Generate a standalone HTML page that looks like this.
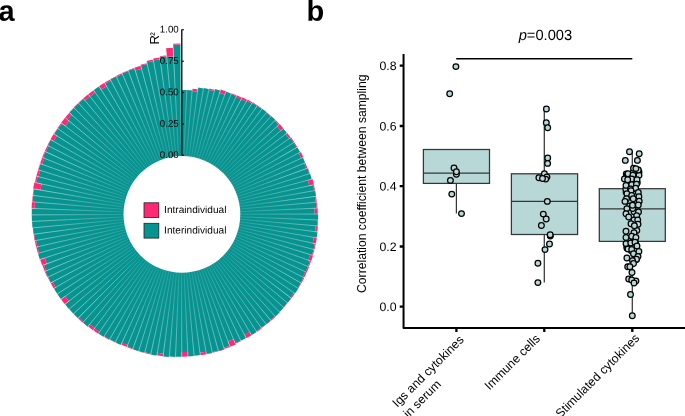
<!DOCTYPE html>
<html><head><meta charset="utf-8"><title>Figure</title>
<style>
html,body{margin:0;padding:0;background:#fff;}
body{width:685px;height:416px;overflow:hidden;position:relative;}
svg{position:absolute;left:0;top:0;display:block;}
text{font-family:"Liberation Sans",Arial,sans-serif;fill:#000;}
</style></head>
<body>
<svg width="685" height="416" viewBox="0 0 685 416">
<rect width="685" height="416" fill="#fff"/>
<g id="polar">
<path d="M181.35 157.15L181.35 89.91A124.3 124.3 0 0 1 186.77 90.03L183.84 157.20A57.1 57.1 0 0 0 181.35 157.15ZM183.84 157.20L186.77 89.90A124.5 124.5 0 0 1 192.19 90.26L186.32 157.37A57.1 57.1 0 0 0 183.84 157.20ZM186.32 157.37L192.13 90.88A123.8 123.8 0 0 1 197.50 91.47L188.80 157.64A57.1 57.1 0 0 0 186.32 157.37ZM188.80 157.64L198.01 87.61A127.7 127.7 0 0 1 203.51 88.45L191.26 158.02A57.1 57.1 0 0 0 188.80 157.64ZM191.26 158.02L203.58 88.08A128.1 128.1 0 0 1 209.05 89.17L193.70 158.50A57.1 57.1 0 0 0 191.26 158.02ZM193.70 158.50L208.95 89.66A127.6 127.6 0 0 1 214.35 90.98L196.12 159.09A57.1 57.1 0 0 0 193.70 158.50ZM196.12 159.09L214.87 89.04A129.6 129.6 0 0 1 220.29 90.62L198.51 159.79A57.1 57.1 0 0 0 196.12 159.09ZM198.51 159.79L219.54 93.02A127.1 127.1 0 0 1 224.79 94.80L200.86 160.59A57.1 57.1 0 0 0 198.51 159.79ZM200.86 160.59L225.95 91.61A130.5 130.5 0 0 1 231.25 93.67L203.18 161.49A57.1 57.1 0 0 0 200.86 160.59ZM203.18 161.49L231.10 94.01A130.1 130.1 0 0 1 236.30 96.30L205.46 162.49A57.1 57.1 0 0 0 203.18 161.49ZM205.46 162.49L235.92 97.09A129.2 129.2 0 0 1 240.98 99.58L207.69 163.59A57.1 57.1 0 0 0 205.46 162.49ZM207.69 163.59L241.21 99.14A129.7 129.7 0 0 1 246.17 101.86L209.88 164.79A57.1 57.1 0 0 0 207.69 163.59ZM209.88 164.79L246.92 100.55A131.3 131.3 0 0 1 251.82 103.51L212.01 166.08A57.1 57.1 0 0 0 209.88 164.79ZM212.01 166.08L252.36 102.67A132.3 132.3 0 0 1 257.15 105.87L214.08 167.46A57.1 57.1 0 0 0 212.01 166.08ZM214.08 167.46L257.30 105.66A132.5 132.5 0 0 1 261.96 109.07L216.08 168.93A57.1 57.1 0 0 0 214.08 167.46ZM216.08 168.93L262.26 108.67A133.0 133.0 0 0 1 266.79 112.30L218.03 170.49A57.1 57.1 0 0 0 216.08 168.93ZM218.03 170.49L266.54 112.59A132.6 132.6 0 0 1 270.89 116.40L219.90 172.13A57.1 57.1 0 0 0 218.03 170.49ZM219.90 172.13L271.23 116.03A133.1 133.1 0 0 1 275.43 120.04L221.70 173.85A57.1 57.1 0 0 0 219.90 172.13ZM221.70 173.85L274.81 120.66A132.3 132.3 0 0 1 278.80 124.82L223.42 175.64A57.1 57.1 0 0 0 221.70 173.85ZM223.42 175.64L277.04 126.44A129.9 129.9 0 0 1 280.77 130.69L225.06 177.51A57.1 57.1 0 0 0 223.42 175.64ZM225.06 177.51L283.27 128.59A133.1 133.1 0 0 1 286.91 133.11L226.62 179.45A57.1 57.1 0 0 0 225.06 177.51ZM226.62 179.45L285.71 134.03A131.6 131.6 0 0 1 289.11 138.66L228.10 181.46A57.1 57.1 0 0 0 226.62 179.45ZM228.10 181.46L290.35 137.79A133.1 133.1 0 0 1 293.57 142.61L229.48 183.53A57.1 57.1 0 0 0 228.10 181.46ZM229.48 183.53L293.57 142.61A133.1 133.1 0 0 1 296.59 147.57L230.77 185.65A57.1 57.1 0 0 0 229.48 183.53ZM230.77 185.65L297.35 147.13A134.0 134.0 0 0 1 300.17 152.25L231.97 187.83A57.1 57.1 0 0 0 230.77 185.65ZM231.97 187.83L298.61 153.06A132.3 132.3 0 0 1 301.16 158.23L233.08 190.07A57.1 57.1 0 0 0 231.97 187.83ZM233.08 190.07L302.87 157.43A134.1 134.1 0 0 1 305.23 162.78L234.08 192.34A57.1 57.1 0 0 0 233.08 190.07ZM234.08 192.34L304.19 163.22A133.0 133.0 0 0 1 306.29 168.62L234.98 194.66A57.1 57.1 0 0 0 234.08 192.34ZM234.98 194.66L307.47 168.19A134.3 134.3 0 0 1 309.36 173.73L235.79 197.02A57.1 57.1 0 0 0 234.98 194.66ZM235.79 197.02L310.08 173.50A135.0 135.0 0 0 1 311.73 179.15L236.49 199.41A57.1 57.1 0 0 0 235.79 197.02ZM236.49 199.41L307.97 180.16A131.1 131.1 0 0 1 309.34 185.71L237.08 201.82A57.1 57.1 0 0 0 236.49 199.41ZM237.08 201.82L313.02 184.89A134.9 134.9 0 0 1 314.17 190.66L237.57 204.26A57.1 57.1 0 0 0 237.08 201.82ZM237.57 204.26L315.16 190.48A135.9 135.9 0 0 1 316.07 196.34L237.95 206.72A57.1 57.1 0 0 0 237.57 204.26ZM237.95 206.72L315.20 196.45A135.0 135.0 0 0 1 315.85 202.30L238.23 209.20A57.1 57.1 0 0 0 237.95 206.72ZM238.23 209.20L316.22 202.27A135.4 135.4 0 0 1 316.62 208.16L238.39 211.68A57.1 57.1 0 0 0 238.23 209.20ZM238.39 211.68L314.61 208.25A133.4 133.4 0 0 1 314.74 214.06L238.45 214.17A57.1 57.1 0 0 0 238.39 211.68ZM238.45 214.17L318.14 214.06A136.8 136.8 0 0 1 318.01 220.02L238.40 216.66A57.1 57.1 0 0 0 238.45 214.17ZM238.40 216.66L317.64 220.00A136.4 136.4 0 0 1 317.26 225.94L238.24 219.14A57.1 57.1 0 0 0 238.40 216.66ZM238.24 219.14L315.75 225.81A134.9 134.9 0 0 1 315.12 231.65L237.97 221.62A57.1 57.1 0 0 0 238.24 219.14ZM237.97 221.62L317.49 231.96A137.3 137.3 0 0 1 316.59 237.88L237.60 224.08A57.1 57.1 0 0 0 237.97 221.62ZM237.60 224.08L313.87 237.40A134.5 134.5 0 0 1 312.73 243.15L237.12 226.52A57.1 57.1 0 0 0 237.60 224.08ZM237.12 226.52L314.94 243.64A136.8 136.8 0 0 1 313.53 249.43L236.53 228.94A57.1 57.1 0 0 0 237.12 226.52ZM236.53 228.94L313.65 249.47A136.9 136.9 0 0 1 311.99 255.20L235.84 231.33A57.1 57.1 0 0 0 236.53 228.94ZM235.84 231.33L310.19 254.63A135.0 135.0 0 0 1 308.31 260.21L235.04 233.69A57.1 57.1 0 0 0 235.84 231.33ZM235.04 233.69L310.09 260.85A136.9 136.9 0 0 1 307.93 266.42L234.14 236.01A57.1 57.1 0 0 0 235.04 233.69ZM234.14 236.01L307.93 266.42A136.9 136.9 0 0 1 305.54 271.89L233.14 238.29A57.1 57.1 0 0 0 234.14 236.01ZM233.14 238.29L305.31 271.78A136.7 136.7 0 0 1 302.69 277.13L232.05 240.52A57.1 57.1 0 0 0 233.14 238.29ZM232.05 240.52L303.58 277.59A137.7 137.7 0 0 1 300.70 282.86L230.85 242.71A57.1 57.1 0 0 0 232.05 240.52ZM230.85 242.71L300.92 282.98A137.9 137.9 0 0 1 297.81 288.13L229.57 244.84A57.1 57.1 0 0 0 230.85 242.71ZM229.57 244.84L298.34 288.46A138.5 138.5 0 0 1 295.00 293.49L228.19 246.91A57.1 57.1 0 0 0 229.57 244.84ZM228.19 246.91L293.96 292.77A137.3 137.3 0 0 1 290.44 297.61L226.72 248.92A57.1 57.1 0 0 0 228.19 246.91ZM226.72 248.92L291.13 298.14A138.2 138.2 0 0 1 287.37 302.85L225.17 250.86A57.1 57.1 0 0 0 226.72 248.92ZM225.17 250.86L287.37 302.85A138.2 138.2 0 0 1 283.41 307.38L223.53 252.74A57.1 57.1 0 0 0 225.17 250.86ZM223.53 252.74L283.69 307.64A138.5 138.5 0 0 1 279.52 312.01L221.81 254.54A57.1 57.1 0 0 0 223.53 252.74ZM221.81 254.54L279.88 312.36A139.0 139.0 0 0 1 275.51 316.56L220.02 256.26A57.1 57.1 0 0 0 221.81 254.54ZM220.02 256.26L275.09 316.10A138.4 138.4 0 0 1 270.56 320.09L218.15 257.91A57.1 57.1 0 0 0 220.02 256.26ZM218.15 257.91L270.80 320.38A138.8 138.8 0 0 1 266.09 324.17L216.21 259.47A57.1 57.1 0 0 0 218.15 257.91ZM216.21 259.47L266.17 324.27A138.9 138.9 0 0 1 261.29 327.87L214.21 260.95A57.1 57.1 0 0 0 216.21 259.47ZM214.21 260.95L261.22 327.76A138.8 138.8 0 0 1 256.20 331.14L212.14 262.34A57.1 57.1 0 0 0 214.21 260.95ZM212.14 262.34L256.74 331.98A139.8 139.8 0 0 1 251.54 335.16L210.02 263.63A57.1 57.1 0 0 0 212.14 262.34ZM210.02 263.63L249.64 331.90A136.0 136.0 0 0 1 244.45 334.76L207.84 264.83A57.1 57.1 0 0 0 210.02 263.63ZM207.84 264.83L246.20 338.10A139.8 139.8 0 0 1 240.74 340.81L205.61 265.94A57.1 57.1 0 0 0 207.84 264.83ZM205.61 265.94L240.69 340.70A139.7 139.7 0 0 1 235.12 343.16L203.33 266.95A57.1 57.1 0 0 0 205.61 265.94ZM203.33 266.95L233.52 339.33A135.5 135.5 0 0 1 228.02 341.49L201.01 267.86A57.1 57.1 0 0 0 203.33 266.95ZM201.01 267.86L229.58 345.74A140.1 140.1 0 0 1 223.81 347.71L198.66 268.66A57.1 57.1 0 0 0 201.01 267.86ZM198.66 268.66L224.26 349.15A141.6 141.6 0 0 1 218.34 350.89L196.27 269.37A57.1 57.1 0 0 0 198.66 268.66ZM196.27 269.37L218.31 350.77A141.4 141.4 0 0 1 212.33 352.25L193.86 269.96A57.1 57.1 0 0 0 196.27 269.37ZM193.86 269.96L212.44 352.74A141.9 141.9 0 0 1 206.37 353.97L191.42 270.46A57.1 57.1 0 0 0 193.86 269.96ZM191.42 270.46L205.97 351.74A139.7 139.7 0 0 1 199.96 352.68L188.96 270.84A57.1 57.1 0 0 0 191.42 270.46ZM188.96 270.84L200.28 355.05A142.1 142.1 0 0 1 194.12 355.74L186.48 271.12A57.1 57.1 0 0 0 188.96 270.84ZM186.48 271.12L194.14 355.99A142.3 142.3 0 0 1 187.96 356.41L184.00 271.29A57.1 57.1 0 0 0 186.48 271.12ZM184.00 271.29L187.74 351.77A137.7 137.7 0 0 1 181.74 351.91L181.51 271.35A57.1 57.1 0 0 0 184.00 271.29ZM181.51 271.35L181.75 356.82A142.6 142.6 0 0 1 175.54 356.70L179.02 271.30A57.1 57.1 0 0 0 181.51 271.35ZM179.02 271.30L175.53 356.95A142.8 142.8 0 0 1 169.32 356.56L176.54 271.15A57.1 57.1 0 0 0 179.02 271.30ZM176.54 271.15L169.27 357.06A143.3 143.3 0 0 1 163.06 356.40L174.06 270.88A57.1 57.1 0 0 0 176.54 271.15ZM174.06 270.88L163.40 353.78A140.7 140.7 0 0 1 157.34 352.87L171.60 270.51A57.1 57.1 0 0 0 174.06 270.88ZM171.60 270.51L156.86 355.59A143.4 143.4 0 0 1 150.73 354.39L169.16 270.03A57.1 57.1 0 0 0 171.60 270.51ZM169.16 270.03L150.86 353.78A142.8 142.8 0 0 1 144.81 352.32L166.74 269.45A57.1 57.1 0 0 0 169.16 270.03ZM166.74 269.45L144.71 352.68A143.2 143.2 0 0 1 138.71 350.95L164.35 268.76A57.1 57.1 0 0 0 166.74 269.45ZM164.35 268.76L138.64 351.19A143.4 143.4 0 0 1 132.71 349.20L161.99 267.97A57.1 57.1 0 0 0 164.35 268.76ZM161.99 267.97L132.93 348.61A142.8 142.8 0 0 1 127.12 346.37L159.67 267.07A57.1 57.1 0 0 0 161.99 267.97ZM159.67 267.07L127.64 345.09A141.4 141.4 0 0 1 121.99 342.63L157.39 266.08A57.1 57.1 0 0 0 159.67 267.07ZM157.39 266.08L120.88 345.02A144.1 144.1 0 0 1 115.24 342.26L155.15 264.98A57.1 57.1 0 0 0 157.39 266.08ZM155.15 264.98L115.24 342.26A144.1 144.1 0 0 1 109.72 339.26L152.96 263.79A57.1 57.1 0 0 0 155.15 264.98ZM152.96 263.79L109.54 339.59A144.5 144.5 0 0 1 104.14 336.34L150.83 262.51A57.1 57.1 0 0 0 152.96 263.79ZM150.83 262.51L103.67 337.08A145.3 145.3 0 0 1 98.39 333.58L148.76 261.13A57.1 57.1 0 0 0 150.83 262.51ZM148.76 261.13L99.40 332.14A143.6 143.6 0 0 1 94.34 328.45L146.75 259.67A57.1 57.1 0 0 0 148.76 261.13ZM146.75 259.67L94.57 328.15A143.2 143.2 0 0 1 89.69 324.26L144.80 258.12A57.1 57.1 0 0 0 146.75 259.67ZM144.80 258.12L87.67 326.68A146.3 146.3 0 0 1 82.86 322.49L142.92 256.48A57.1 57.1 0 0 0 144.80 258.12ZM142.92 256.48L83.54 321.74A145.3 145.3 0 0 1 78.95 317.38L141.12 254.77A57.1 57.1 0 0 0 142.92 256.48ZM141.12 254.77L77.97 318.36A146.7 146.7 0 0 1 73.54 313.76L139.39 252.98A57.1 57.1 0 0 0 141.12 254.77ZM139.39 252.98L73.44 313.84A146.8 146.8 0 0 1 69.21 309.04L137.74 251.11A57.1 57.1 0 0 0 139.39 252.98ZM137.74 251.11L69.11 309.13A147.0 147.0 0 0 1 65.08 304.14L136.18 249.18A57.1 57.1 0 0 0 137.74 251.11ZM136.18 249.18L68.86 301.22A142.2 142.2 0 0 1 65.18 296.24L134.70 247.17A57.1 57.1 0 0 0 136.18 249.18ZM134.70 247.17L60.97 299.21A147.3 147.3 0 0 1 57.38 293.88L133.31 245.11A57.1 57.1 0 0 0 134.70 247.17ZM133.31 245.11L57.27 293.95A147.5 147.5 0 0 1 53.92 288.47L132.01 242.99A57.1 57.1 0 0 0 133.31 245.11ZM132.01 242.99L55.65 287.45A145.5 145.5 0 0 1 52.58 281.91L130.80 240.81A57.1 57.1 0 0 0 132.01 242.99ZM130.80 240.81L50.91 282.78A147.3 147.3 0 0 1 48.05 277.03L129.69 238.58A57.1 57.1 0 0 0 130.80 240.81ZM129.69 238.58L48.05 277.03A147.3 147.3 0 0 1 45.44 271.17L128.68 236.31A57.1 57.1 0 0 0 129.69 238.58ZM128.68 236.31L46.25 270.83A146.5 146.5 0 0 1 43.92 264.89L127.77 233.99A57.1 57.1 0 0 0 128.68 236.31ZM127.77 233.99L46.75 263.84A143.4 143.4 0 0 1 44.71 257.93L126.96 231.64A57.1 57.1 0 0 0 127.77 233.99ZM126.96 231.64L39.81 259.50A148.6 148.6 0 0 1 37.97 253.29L126.26 229.25A57.1 57.1 0 0 0 126.96 231.64ZM126.26 229.25L39.06 252.99A147.5 147.5 0 0 1 37.51 246.75L125.65 226.83A57.1 57.1 0 0 0 126.26 229.25ZM125.65 226.83L37.38 246.78A147.6 147.6 0 0 1 36.10 240.47L125.16 224.40A57.1 57.1 0 0 0 125.65 226.83ZM125.16 224.40L35.11 240.65A148.6 148.6 0 0 1 34.10 234.25L124.77 221.94A57.1 57.1 0 0 0 125.16 224.40ZM124.77 221.94L33.60 234.32A149.1 149.1 0 0 1 32.87 227.86L124.49 219.46A57.1 57.1 0 0 0 124.77 221.94ZM124.49 219.46L32.49 227.90A149.5 149.5 0 0 1 32.04 221.40L124.32 216.98A57.1 57.1 0 0 0 124.49 219.46ZM124.32 216.98L31.91 221.41A149.6 149.6 0 0 1 31.74 214.89L124.25 214.49A57.1 57.1 0 0 0 124.32 216.98ZM124.25 214.49L31.74 214.89A149.6 149.6 0 0 1 31.86 208.37L124.29 212.00A57.1 57.1 0 0 0 124.25 214.49ZM124.29 212.00L34.62 208.47A146.8 146.8 0 0 1 35.01 202.09L124.45 209.52A57.1 57.1 0 0 0 124.29 212.00ZM124.45 209.52L32.51 201.88A149.4 149.4 0 0 1 33.19 195.40L124.71 207.04A57.1 57.1 0 0 0 124.45 209.52ZM124.71 207.04L33.06 195.39A149.5 149.5 0 0 1 34.03 188.94L125.07 204.58A57.1 57.1 0 0 0 124.71 207.04ZM125.07 204.58L40.47 190.05A142.9 142.9 0 0 1 41.66 183.93L125.55 202.14A57.1 57.1 0 0 0 125.07 204.58ZM125.55 202.14L36.13 182.73A148.6 148.6 0 0 1 37.64 176.43L126.13 199.72A57.1 57.1 0 0 0 125.55 202.14ZM126.13 199.72L38.49 176.66A147.7 147.7 0 0 1 40.27 170.47L126.82 197.33A57.1 57.1 0 0 0 126.13 199.72ZM126.82 197.33L38.47 169.91A149.6 149.6 0 0 1 40.53 163.72L127.60 194.97A57.1 57.1 0 0 0 126.82 197.33ZM127.60 194.97L42.07 164.28A148.0 148.0 0 0 1 44.38 158.25L128.50 192.64A57.1 57.1 0 0 0 127.60 194.97ZM128.50 192.64L42.87 157.64A149.6 149.6 0 0 1 45.47 151.65L129.49 190.36A57.1 57.1 0 0 0 128.50 192.64ZM129.49 190.36L45.81 151.81A149.2 149.2 0 0 1 48.66 145.96L130.58 188.12A57.1 57.1 0 0 0 129.49 190.36ZM130.58 188.12L47.77 145.50A150.2 150.2 0 0 1 50.89 139.75L131.77 185.93A57.1 57.1 0 0 0 130.58 188.12ZM131.77 185.93L53.51 141.24A147.2 147.2 0 0 1 56.81 135.74L133.05 183.80A57.1 57.1 0 0 0 131.77 185.93ZM133.05 183.80L54.15 134.07A150.4 150.4 0 0 1 57.77 128.60L134.42 181.72A57.1 57.1 0 0 0 133.05 183.80ZM134.42 181.72L58.08 128.81A150.0 150.0 0 0 1 61.92 123.52L135.88 179.71A57.1 57.1 0 0 0 134.42 181.72ZM135.88 179.71L65.12 125.96A146.0 146.0 0 0 1 69.08 120.97L137.43 177.76A57.1 57.1 0 0 0 135.88 179.71ZM137.43 177.76L67.44 119.61A148.1 148.1 0 0 1 71.67 114.73L139.06 175.88A57.1 57.1 0 0 0 137.43 177.76ZM139.06 175.88L69.44 112.71A151.1 151.1 0 0 1 73.97 107.93L140.77 174.07A57.1 57.1 0 0 0 139.06 175.88ZM140.77 174.07L74.23 108.19A150.7 150.7 0 0 1 78.96 103.62L142.56 172.34A57.1 57.1 0 0 0 140.77 174.07ZM142.56 172.34L78.53 103.16A151.4 151.4 0 0 1 83.47 98.79L144.43 170.69A57.1 57.1 0 0 0 142.56 172.34ZM144.43 170.69L84.85 100.42A149.2 149.2 0 0 1 89.90 96.32L146.36 169.13A57.1 57.1 0 0 0 144.43 170.69ZM146.36 169.13L89.90 96.32A149.2 149.2 0 0 1 95.13 92.45L148.36 167.64A57.1 57.1 0 0 0 146.36 169.13ZM148.36 167.64L93.53 90.19A152.0 152.0 0 0 1 99.02 86.48L150.42 166.25A57.1 57.1 0 0 0 148.36 167.64ZM150.42 166.25L101.00 89.55A148.3 148.3 0 0 1 106.51 86.16L152.54 164.95A57.1 57.1 0 0 0 150.42 166.25ZM152.54 164.95L105.11 83.77A151.1 151.1 0 0 1 110.87 80.58L154.72 163.74A57.1 57.1 0 0 0 152.54 164.95ZM154.72 163.74L110.34 79.58A152.2 152.2 0 0 1 116.28 76.61L156.95 162.63A57.1 57.1 0 0 0 154.72 163.74ZM156.95 162.63L116.44 76.95A151.9 151.9 0 0 1 122.49 74.25L159.22 161.61A57.1 57.1 0 0 0 156.95 162.63ZM159.22 161.61L122.10 73.32A152.9 152.9 0 0 1 128.30 70.88L161.53 160.70A57.1 57.1 0 0 0 159.22 161.61ZM161.53 160.70L128.21 70.64A153.1 153.1 0 0 1 134.52 68.46L163.89 159.89A57.1 57.1 0 0 0 161.53 160.70ZM163.89 159.89L135.21 70.62A150.9 150.9 0 0 1 141.51 68.74L166.27 159.18A57.1 57.1 0 0 0 163.89 159.89ZM166.27 159.18L140.65 65.59A154.1 154.1 0 0 1 147.17 63.96L168.69 158.57A57.1 57.1 0 0 0 166.27 159.18ZM168.69 158.57L146.80 62.36A155.8 155.8 0 0 1 153.46 61.00L171.13 158.07A57.1 57.1 0 0 0 168.69 158.57ZM171.13 158.07L153.34 60.38A156.4 156.4 0 0 1 160.08 59.31L173.58 157.68A57.1 57.1 0 0 0 171.13 158.07ZM173.58 157.68L159.75 56.94A158.8 158.8 0 0 1 166.63 56.15L176.06 157.40A57.1 57.1 0 0 0 173.58 157.68ZM176.06 157.40L166.70 56.90A158.0 158.0 0 0 1 173.57 56.41L178.54 157.22A57.1 57.1 0 0 0 176.06 157.40ZM178.54 157.22L172.99 44.74A169.7 169.7 0 0 1 180.39 44.53L181.03 157.15A57.1 57.1 0 0 0 178.54 157.22Z" fill="#07938f"/>
<path d="M192.13 90.93L192.32 88.75A126.0 126.0 0 0 1 197.78 89.35L197.49 91.52A123.8 123.8 0 0 0 192.13 90.93ZM208.93 89.71L209.22 88.43A128.9 128.9 0 0 1 214.67 89.77L214.34 91.03A127.6 127.6 0 0 0 208.93 89.71ZM219.52 93.06L220.67 89.42A130.9 130.9 0 0 1 226.07 91.25L224.77 94.84A127.1 127.1 0 0 0 219.52 93.06ZM231.08 94.06L231.39 93.32A130.9 130.9 0 0 1 236.61 95.61L236.27 96.34A130.1 130.1 0 0 0 231.08 94.06ZM235.90 97.14L236.83 95.16A131.4 131.4 0 0 1 241.96 97.69L240.96 99.63A129.2 129.2 0 0 0 235.90 97.14ZM241.19 99.18L242.20 97.24A131.9 131.9 0 0 1 247.24 100.00L246.15 101.90A129.7 129.7 0 0 0 241.19 99.18ZM246.90 100.59L247.55 99.46A132.5 132.5 0 0 1 252.49 102.45L251.79 103.56A131.2 131.2 0 0 0 246.90 100.59ZM252.33 102.71L252.63 102.24A132.8 132.8 0 0 1 257.44 105.45L257.12 105.91A132.2 132.2 0 0 0 252.33 102.71ZM257.27 105.70L257.51 105.35A132.9 132.9 0 0 1 262.19 108.77L261.93 109.11A132.5 132.5 0 0 0 257.27 105.70ZM266.51 112.63L266.79 112.30A133.0 133.0 0 0 1 271.15 116.12L270.86 116.44A132.6 132.6 0 0 0 266.51 112.63ZM274.77 120.70L275.52 119.95A133.3 133.3 0 0 1 279.54 124.14L278.76 124.86A132.2 132.2 0 0 0 274.77 120.70ZM277.00 126.47L279.63 124.06A133.4 133.4 0 0 1 283.47 128.43L280.73 130.72A129.8 129.8 0 0 0 277.00 126.47ZM285.67 134.06L287.21 132.88A133.5 133.5 0 0 1 290.65 137.57L289.07 138.68A131.6 131.6 0 0 0 285.67 134.06ZM290.30 137.82L291.07 137.28A134.0 134.0 0 0 1 294.32 142.14L293.53 142.64A133.1 133.1 0 0 0 290.30 137.82ZM293.53 142.64L294.32 142.14A134.0 134.0 0 0 1 297.35 147.13L296.55 147.60A133.1 133.1 0 0 0 293.53 142.64ZM298.56 153.09L300.83 151.90A134.8 134.8 0 0 1 303.44 157.17L301.12 158.25A132.2 132.2 0 0 0 298.56 153.09ZM304.14 163.24L305.35 162.73A134.3 134.3 0 0 1 307.47 168.19L306.25 168.64A133.0 133.0 0 0 0 304.14 163.24ZM307.43 168.20L307.95 168.01A134.8 134.8 0 0 1 309.84 173.58L309.31 173.74A134.2 134.2 0 0 0 307.43 168.20ZM307.92 180.17L312.58 178.92A135.9 135.9 0 0 1 314.00 184.67L309.29 185.72A131.1 131.1 0 0 0 307.92 180.17ZM312.97 184.90L313.88 184.70A135.8 135.8 0 0 1 315.04 190.50L314.12 190.67A134.8 134.8 0 0 0 312.97 184.90ZM315.15 196.46L316.07 196.34A135.9 135.9 0 0 1 316.72 202.22L315.80 202.31A135.0 135.0 0 0 0 315.15 196.46ZM316.17 202.27L317.10 202.19A136.3 136.3 0 0 1 317.49 208.12L316.57 208.16A135.4 135.4 0 0 0 316.17 202.27ZM314.56 208.25L317.62 208.11A136.4 136.4 0 0 1 317.76 214.06L314.69 214.06A133.3 133.3 0 0 0 314.56 208.25ZM317.59 220.00L318.14 220.02A136.9 136.9 0 0 1 317.76 225.98L317.21 225.93A136.4 136.4 0 0 0 317.59 220.00ZM315.70 225.80L317.88 225.99A137.0 137.0 0 0 1 317.24 231.93L315.07 231.65A134.8 134.8 0 0 0 315.70 225.80ZM313.82 237.39L316.84 237.92A137.5 137.5 0 0 1 315.68 243.80L312.68 243.14A134.5 134.5 0 0 0 313.82 237.39ZM314.89 243.63L315.80 243.83A137.7 137.7 0 0 1 314.38 249.66L313.48 249.42A136.7 136.7 0 0 0 314.89 243.63ZM313.61 249.45L314.38 249.66A137.7 137.7 0 0 1 312.71 255.42L311.95 255.18A136.9 136.9 0 0 0 313.61 249.45ZM310.15 254.62L313.07 255.54A138.0 138.0 0 0 1 311.15 261.24L308.27 260.19A135.0 135.0 0 0 0 310.15 254.62ZM310.04 260.84L311.03 261.20A137.9 137.9 0 0 1 308.86 266.80L307.89 266.40A136.9 136.9 0 0 0 310.04 260.84ZM307.89 266.40L309.09 266.90A138.2 138.2 0 0 1 306.68 272.42L305.49 271.87A136.9 136.9 0 0 0 307.89 266.40ZM305.26 271.76L306.68 272.42A138.2 138.2 0 0 1 304.02 277.82L302.64 277.11A136.6 136.6 0 0 0 305.26 271.76ZM303.53 277.57L304.25 277.94A138.4 138.4 0 0 1 301.36 283.23L300.66 282.83A137.6 137.6 0 0 0 303.53 277.57ZM300.88 282.96L301.36 283.23A138.4 138.4 0 0 1 298.24 288.40L297.77 288.10A137.9 137.9 0 0 0 300.88 282.96ZM293.92 292.75L295.00 293.49A138.5 138.5 0 0 1 291.43 298.37L290.40 297.58A137.2 137.2 0 0 0 293.92 292.75ZM291.09 298.11L291.43 298.37A138.5 138.5 0 0 1 287.66 303.09L287.34 302.81A138.1 138.1 0 0 0 291.09 298.11ZM287.34 302.81L287.66 303.09A138.5 138.5 0 0 1 283.69 307.64L283.38 307.35A138.1 138.1 0 0 0 287.34 302.81ZM275.05 316.06L275.68 316.75A139.3 139.3 0 0 1 271.12 320.76L270.53 320.05A138.4 138.4 0 0 0 275.05 316.06ZM270.77 320.34L271.04 320.67A139.2 139.2 0 0 1 266.32 324.47L266.06 324.14A138.7 138.7 0 0 0 270.77 320.34ZM266.14 324.23L266.40 324.57A139.3 139.3 0 0 1 261.51 328.17L261.26 327.83A138.9 138.9 0 0 0 266.14 324.23ZM261.19 327.72L261.80 328.59A139.8 139.8 0 0 1 256.74 331.98L256.17 331.09A138.7 138.7 0 0 0 261.19 327.72ZM249.62 331.85L251.60 335.27A139.9 139.9 0 0 1 246.26 338.21L244.43 334.72A136.0 136.0 0 0 0 249.62 331.85ZM240.67 340.65L240.90 341.15A140.2 140.2 0 0 1 235.32 343.63L235.10 343.12A139.6 139.6 0 0 0 240.67 340.65ZM233.51 339.29L235.70 344.55A141.2 141.2 0 0 1 229.97 346.80L228.01 341.44A135.5 135.5 0 0 0 233.51 339.29ZM229.57 345.69L230.02 346.92A141.3 141.3 0 0 1 224.19 348.91L223.79 347.67A140.0 140.0 0 0 0 229.57 345.69ZM224.25 349.10L224.34 349.39A141.8 141.8 0 0 1 218.41 351.14L218.33 350.84A141.5 141.5 0 0 0 224.25 349.10ZM218.30 350.72L218.44 351.26A141.9 141.9 0 0 1 212.44 352.74L212.32 352.20A141.4 141.4 0 0 0 218.30 350.72ZM212.43 352.69L212.49 352.99A142.2 142.2 0 0 1 206.42 354.21L206.36 353.92A141.9 141.9 0 0 0 212.43 352.69ZM205.96 351.69L206.44 354.34A142.3 142.3 0 0 1 200.31 355.30L199.95 352.63A139.6 139.6 0 0 0 205.96 351.69ZM187.74 351.72L187.96 356.54A142.4 142.4 0 0 1 181.75 356.69L181.74 351.86A137.6 137.6 0 0 0 187.74 351.72ZM163.41 353.73L163.08 356.28A143.2 143.2 0 0 1 156.91 355.34L157.34 352.82A140.6 140.6 0 0 0 163.41 353.73ZM150.87 353.73L150.70 354.51A143.6 143.6 0 0 1 144.62 353.04L144.82 352.27A142.8 142.8 0 0 0 150.87 353.73ZM144.73 352.63L144.65 352.92A143.4 143.4 0 0 1 138.64 351.19L138.73 350.90A143.1 143.1 0 0 0 144.73 352.63ZM132.94 348.56L132.67 349.32A143.6 143.6 0 0 1 126.83 347.07L127.14 346.32A142.8 142.8 0 0 0 132.94 348.56ZM127.66 345.05L126.83 347.07A143.6 143.6 0 0 1 121.09 344.57L122.01 342.58A141.4 141.4 0 0 0 127.66 345.05ZM115.26 342.22L115.07 342.60A144.5 144.5 0 0 1 109.54 339.59L109.75 339.22A144.0 144.0 0 0 0 115.26 342.22ZM109.56 339.54L109.35 339.92A144.8 144.8 0 0 1 103.94 336.66L104.17 336.30A144.4 144.4 0 0 0 109.56 339.54ZM99.43 332.10L98.32 333.68A145.5 145.5 0 0 1 93.20 329.95L94.37 328.41A143.5 143.5 0 0 0 99.43 332.10ZM94.60 328.11L92.97 330.25A145.8 145.8 0 0 1 88.00 326.29L89.72 324.22A143.1 143.1 0 0 0 94.60 328.11ZM83.57 321.71L82.69 322.67A146.6 146.6 0 0 1 78.06 318.27L78.98 317.34A145.3 145.3 0 0 0 83.57 321.71ZM68.90 301.19L64.88 304.30A147.2 147.2 0 0 1 61.07 299.14L65.22 296.21A142.1 142.1 0 0 0 68.90 301.19ZM55.70 287.43L53.81 288.53A147.6 147.6 0 0 1 50.69 282.90L52.63 281.88A145.4 145.4 0 0 0 55.70 287.43ZM50.96 282.76L50.58 282.96A147.7 147.7 0 0 1 47.71 277.20L48.10 277.01A147.3 147.3 0 0 0 50.96 282.76ZM48.10 277.01L47.37 277.36A148.1 148.1 0 0 1 44.75 271.46L45.49 271.15A147.3 147.3 0 0 0 48.10 277.01ZM46.30 270.81L44.86 271.41A148.0 148.0 0 0 1 42.50 265.41L43.96 264.87A146.4 146.4 0 0 0 46.30 270.81ZM46.79 263.82L42.27 265.49A148.2 148.2 0 0 1 40.16 259.38L44.76 257.91A143.4 143.4 0 0 0 46.79 263.82ZM39.11 252.98L37.85 253.32A148.7 148.7 0 0 1 36.28 247.03L37.56 246.74A147.4 147.4 0 0 0 39.11 252.98ZM37.43 246.77L36.16 247.06A148.9 148.9 0 0 1 34.87 240.70L36.15 240.47A147.5 147.5 0 0 0 37.43 246.77ZM35.16 240.64L34.62 240.74A149.1 149.1 0 0 1 33.60 234.32L34.15 234.25A148.6 148.6 0 0 0 35.16 240.64ZM34.67 208.48L31.61 208.36A149.9 149.9 0 0 1 32.01 201.84L35.06 202.09A146.8 146.8 0 0 0 34.67 208.48ZM32.56 201.88L32.13 201.85A149.7 149.7 0 0 1 32.81 195.35L33.24 195.41A149.3 149.3 0 0 0 32.56 201.88ZM33.11 195.39L32.69 195.34A149.9 149.9 0 0 1 33.66 188.88L34.08 188.95A149.4 149.4 0 0 0 33.11 195.39ZM40.52 190.06L33.16 188.79A150.4 150.4 0 0 1 34.41 182.36L41.71 183.94A142.9 142.9 0 0 0 40.52 190.06ZM36.18 182.74L34.90 182.47A149.9 149.9 0 0 1 36.43 176.11L37.69 176.45A148.6 148.6 0 0 0 36.18 182.74ZM38.54 176.67L36.43 176.11A149.9 149.9 0 0 1 38.23 169.83L40.31 170.48A147.7 147.7 0 0 0 38.54 176.67ZM38.51 169.92L38.11 169.80A150.0 150.0 0 0 1 40.18 163.60L40.58 163.74A149.6 149.6 0 0 0 38.51 169.92ZM42.12 164.29L40.06 163.55A150.1 150.1 0 0 1 42.40 157.44L44.43 158.27A147.9 147.9 0 0 0 42.12 164.29ZM42.92 157.65L42.17 157.35A150.4 150.4 0 0 1 44.78 151.34L45.51 151.67A149.6 149.6 0 0 0 42.92 157.65ZM45.86 151.83L44.67 151.29A150.5 150.5 0 0 1 47.54 145.39L48.70 145.99A149.2 149.2 0 0 0 45.86 151.83ZM47.81 145.53L47.43 145.33A150.6 150.6 0 0 1 50.56 139.56L50.93 139.77A150.2 150.2 0 0 0 47.81 145.53ZM53.55 141.27L50.45 139.50A150.7 150.7 0 0 1 53.83 133.86L56.85 135.77A147.2 147.2 0 0 0 53.55 141.27ZM54.20 134.09L53.83 133.86A150.7 150.7 0 0 1 57.46 128.38L57.81 128.63A150.3 150.3 0 0 0 54.20 134.09ZM58.12 128.84L57.36 128.31A150.9 150.9 0 0 1 61.22 122.99L61.96 123.55A149.9 149.9 0 0 0 58.12 128.84ZM65.16 125.99L61.02 122.84A151.1 151.1 0 0 1 65.12 117.68L69.12 121.01A145.9 145.9 0 0 0 65.16 125.99ZM67.48 119.64L65.12 117.68A151.1 151.1 0 0 1 69.44 112.71L71.71 114.77A148.0 148.0 0 0 0 67.48 119.64ZM69.47 112.74L69.16 112.45A151.5 151.5 0 0 1 73.70 107.66L74.00 107.96A151.1 151.1 0 0 0 69.47 112.74ZM74.27 108.23L73.52 107.48A151.7 151.7 0 0 1 78.28 102.89L78.99 103.66A150.7 150.7 0 0 0 74.27 108.23ZM78.57 103.20L78.28 102.89A151.7 151.7 0 0 1 83.23 98.50L83.50 98.83A151.3 151.3 0 0 0 78.57 103.20ZM84.88 100.46L83.15 98.40A151.9 151.9 0 0 1 88.29 94.23L89.94 96.36A149.2 149.2 0 0 0 84.88 100.46ZM89.94 96.36L88.29 94.23A151.9 151.9 0 0 1 93.61 90.29L95.16 92.49A149.2 149.2 0 0 0 89.94 96.36ZM101.02 89.59L98.89 86.27A152.2 152.2 0 0 1 104.54 82.80L106.53 86.21A148.3 148.3 0 0 0 101.02 89.59ZM105.14 83.82L104.48 82.69A152.4 152.4 0 0 1 110.29 79.46L110.90 80.62A151.1 151.1 0 0 0 105.14 83.82ZM110.37 79.62L110.17 79.24A152.6 152.6 0 0 1 116.12 76.27L116.30 76.65A152.2 152.2 0 0 0 110.37 79.62ZM116.46 77.00L116.01 76.04A152.9 152.9 0 0 1 122.10 73.32L122.51 74.30A151.8 151.8 0 0 0 116.46 77.00ZM122.12 73.37L121.95 72.98A153.3 153.3 0 0 1 128.16 70.52L128.31 70.92A152.8 152.8 0 0 0 122.12 73.37ZM128.23 70.69L128.08 70.29A153.5 153.5 0 0 1 134.40 68.10L134.53 68.51A153.1 153.1 0 0 0 128.23 70.69ZM135.22 70.66L134.29 67.74A153.9 153.9 0 0 1 140.72 65.83L141.53 68.79A150.8 150.8 0 0 0 135.22 70.66ZM140.66 65.64L140.45 64.86A154.9 154.9 0 0 1 147.00 63.22L147.18 64.01A154.1 154.1 0 0 0 140.66 65.64ZM146.82 62.41L146.47 60.89A157.3 157.3 0 0 1 153.19 59.52L153.47 61.05A155.7 155.7 0 0 0 146.82 62.41ZM153.35 60.43L153.01 58.53A158.3 158.3 0 0 1 159.82 57.44L160.08 59.36A156.3 156.3 0 0 0 153.35 60.43ZM159.76 56.99L159.65 56.20A159.5 159.5 0 0 1 166.56 55.40L166.63 56.20A158.7 158.7 0 0 0 159.76 56.99ZM166.70 56.95L165.89 48.27A166.7 166.7 0 0 1 173.14 47.75L173.57 56.46A158.0 158.0 0 0 0 166.70 56.95ZM173.00 44.79L172.94 43.73A170.7 170.7 0 0 1 180.38 43.53L180.39 44.58A169.7 169.7 0 0 0 173.00 44.79Z" fill="#ff2874"/>
<defs><radialGradient id="lg" gradientUnits="userSpaceOnUse" cx="181.35" cy="214.25" r="160"><stop offset="0.36" stop-color="#fff" stop-opacity="0.25"/><stop offset="0.95" stop-color="#fff" stop-opacity="0.92"/></radialGradient></defs>
<path d="M183.90 155.71L186.77 89.90M186.45 155.87L192.32 88.75M188.99 156.15L198.01 87.61M191.52 156.54L203.58 88.08M194.02 157.04L209.22 88.43M196.50 157.64L214.87 89.04M198.96 158.36L220.67 89.42M201.38 159.18L226.07 91.25M203.76 160.10L231.39 93.32M206.09 161.13L236.83 95.16M208.39 162.26L242.20 97.24M210.63 163.49L247.55 99.46M212.81 164.81L252.63 102.24M214.94 166.23L257.51 105.35M217.00 167.74L262.26 108.67M218.99 169.34L266.79 112.30M220.91 171.02L271.23 116.03M222.76 172.78L275.52 119.95M224.52 174.63L279.63 124.06M226.21 176.55L283.47 128.43M227.81 178.54L287.21 132.88M229.32 180.60L291.07 137.28M230.74 182.72L294.32 142.14M232.07 184.90L297.35 147.13M233.30 187.14L300.83 151.90M234.43 189.43L303.44 157.17M235.47 191.77L305.35 162.73M236.39 194.15L307.95 168.01M237.22 196.56L310.08 173.50M237.94 199.02L312.58 178.92M238.55 201.50L314.00 184.67M239.05 204.00L315.16 190.48M239.44 206.53L316.07 196.34M239.72 209.06L317.10 202.19M239.89 211.61L317.62 208.11M239.95 214.17L318.14 214.06M239.90 216.72L318.14 220.02M239.73 219.27L317.88 225.99M239.46 221.81L317.49 231.96M239.08 224.33L316.84 237.92M238.58 226.84L315.80 243.83M237.98 229.32L314.38 249.66M237.27 231.78L313.07 255.54M236.45 234.20L311.15 261.24M235.53 236.58L309.09 266.90M234.50 238.92L306.68 272.42M233.38 241.21L304.25 277.94M232.15 243.45L301.36 283.23M230.83 245.64L298.34 288.46M229.42 247.77L295.00 293.49M227.91 249.83L291.43 298.37M226.32 251.83L287.66 303.09M224.64 253.75L283.69 307.64M222.87 255.60L279.88 312.36M221.03 257.37L275.68 316.75M219.12 259.06L271.12 320.76M217.13 260.66L266.40 324.57M215.07 262.18L261.80 328.59M212.95 263.60L256.74 331.98M210.77 264.93L251.60 335.27M208.53 266.16L246.26 338.21M206.24 267.30L240.90 341.15M203.91 268.33L235.70 344.55M201.53 269.27L230.02 346.92M199.11 270.09L224.34 349.39M196.66 270.81L218.44 351.26M194.18 271.43L212.49 352.99M191.68 271.93L206.44 354.34M189.16 272.33L200.31 355.30M186.62 272.61L194.14 355.99M184.07 272.79L187.96 356.54M181.52 272.85L181.75 356.82M178.96 272.80L175.53 356.95M176.41 272.64L169.27 357.06M173.87 272.37L163.06 356.40M171.35 271.99L156.86 355.59M168.84 271.50L150.70 354.51M166.36 270.90L144.62 353.04M163.90 270.19L138.64 351.19M161.48 269.38L132.67 349.32M159.10 268.46L126.83 347.07M156.76 267.44L120.88 345.02M154.46 266.32L115.07 342.60M152.22 265.10L109.35 339.92M150.03 263.78L103.67 337.08M147.90 262.37L98.32 333.68M145.84 260.86L92.97 330.25M143.84 259.27L87.67 326.68M141.91 257.59L82.69 322.67M140.06 255.83L77.97 318.36M138.29 253.99L73.44 313.84M136.60 252.08L69.11 309.13M134.99 250.09L64.88 304.30M133.47 248.04L60.97 299.21M132.05 245.92L57.27 293.95M130.71 243.74L53.81 288.53M129.47 241.51L50.58 282.96M128.34 239.22L47.37 277.36M127.30 236.89L44.75 271.46M126.36 234.51L42.27 265.49M125.53 232.09L39.81 259.50M124.81 229.64L37.85 253.32M124.19 227.17L36.16 247.06M123.68 224.66L34.62 240.74M123.28 222.14L33.60 234.32M122.99 219.60L32.49 227.90M122.82 217.05L31.91 221.41M122.75 214.50L31.74 214.89M122.80 211.95L31.61 208.36M122.95 209.40L32.01 201.84M123.22 206.86L32.69 195.34M123.60 204.33L33.16 188.79M124.08 201.82L34.41 182.36M124.68 199.34L36.43 176.11M125.38 196.88L38.11 169.80M126.19 194.46L40.06 163.55M127.11 192.07L42.17 157.35M128.13 189.73L44.67 151.29M129.25 187.44L47.43 145.33M130.46 185.19L50.45 139.50M131.78 183.00L53.83 133.86M133.19 180.87L57.36 128.31M134.69 178.80L61.02 122.84M136.28 176.80L65.12 117.68M137.95 174.87L69.16 112.45M139.71 173.02L73.52 107.48M141.54 171.24L78.28 102.89M143.46 169.55L83.15 98.40M145.44 167.94L88.29 94.23M147.49 166.42L93.53 90.19M149.61 164.99L98.89 86.27M151.79 163.65L104.48 82.69M154.02 162.41L110.17 79.24M156.30 161.27L116.01 76.04M158.64 160.23L121.95 72.98M161.01 159.29L128.08 70.29M163.43 158.46L134.29 67.74M165.88 157.73L140.45 64.86M168.35 157.11L146.47 60.89M170.86 156.60L153.01 58.53M173.38 156.19L159.65 56.20M175.92 155.90L165.89 48.27M178.46 155.72L172.94 43.73" stroke="url(#lg)" stroke-width="0.50" fill="none"/>
<circle cx="181.9" cy="214.35" r="58.4" fill="#fff"/>
</g>
<g id="polar-axis">
<path d="M181.8 29.4V155.4" stroke="#000" stroke-width="1.3" fill="none"/>
<path d="M181.8 29.8h2.2M181.8 61.2h2.2M181.8 92.6h2.2M181.8 124h2.2M181.8 155.1h2.2" stroke="#000" stroke-width="1" fill="none"/>
<g font-size="9.7" text-anchor="end">
<text transform="translate(178.7,32.55) rotate(0.05)">1.00</text>
<text transform="translate(178.7,63.95) rotate(0.05)">0.75</text>
<text transform="translate(178.7,95.35) rotate(0.05)">0.50</text>
<text transform="translate(178.7,126.75) rotate(0.05)">0.25</text>
<text transform="translate(178.7,157.95) rotate(0.05)">0.00</text>
</g>
<text font-size="13" transform="translate(158.7,44.5) rotate(-90)">R<tspan font-size="10.5" dx="-0.7" dy="-1.2">²</tspan></text>
</g>
<g id="legend">
<rect x="144.0" y="202.8" width="14.8" height="14.8" fill="#ff2874" stroke="#222" stroke-width="0.8"/>
<rect x="144.0" y="223.3" width="14.8" height="14.8" fill="#07938f" stroke="#222" stroke-width="0.8"/>
<text transform="translate(164.1,213.0) rotate(0.05)" font-size="10.1">Intraindividual</text>
<text transform="translate(164.1,233.4) rotate(0.05)" font-size="10.1">Interindividual</text>
</g>
<text transform="translate(-1.4,20.7) rotate(0.05)" font-size="29" font-weight="bold">a</text>
<text transform="translate(306.45,20.7) rotate(0.05)" font-size="29" font-weight="bold">b</text>
<g id="box">
<path d="M456.4 183.4V213.5" stroke="#363636" stroke-width="1.25" fill="none"/>
<rect x="423.4" y="149.5" width="66.1" height="33.9" fill="#b8d8d8" stroke="#363636" stroke-width="1.25"/>
<path d="M423.4 173.0H489.5" stroke="#363636" stroke-width="1.25" fill="none"/>
<path d="M544.3 109.0V173.8" stroke="#363636" stroke-width="1.25" fill="none"/>
<path d="M544.3 234.5V282.6" stroke="#363636" stroke-width="1.25" fill="none"/>
<rect x="511.4" y="173.8" width="66.2" height="60.7" fill="#b8d8d8" stroke="#363636" stroke-width="1.25"/>
<path d="M511.4 201.3H577.6" stroke="#363636" stroke-width="1.25" fill="none"/>
<path d="M632.3 151.7V188.7" stroke="#363636" stroke-width="1.25" fill="none"/>
<path d="M632.3 241.4V315.5" stroke="#363636" stroke-width="1.25" fill="none"/>
<rect x="599.3" y="188.7" width="66.0" height="52.7" fill="#b8d8d8" stroke="#363636" stroke-width="1.25"/>
<path d="M599.3 208.9H665.3" stroke="#363636" stroke-width="1.25" fill="none"/>
<circle cx="455.9" cy="66.6" r="2.85" fill="#b8d8d8" stroke="#000" stroke-width="1.25"/>
<circle cx="449.7" cy="93.7" r="2.85" fill="#b8d8d8" stroke="#000" stroke-width="1.25"/>
<circle cx="454.0" cy="168.0" r="2.85" fill="#b8d8d8" stroke="#000" stroke-width="1.25"/>
<circle cx="456.4" cy="174.2" r="2.85" fill="#b8d8d8" stroke="#000" stroke-width="1.25"/>
<circle cx="456.4" cy="171.7" r="2.85" fill="#b8d8d8" stroke="#000" stroke-width="1.25"/>
<circle cx="450.4" cy="180.4" r="2.85" fill="#b8d8d8" stroke="#000" stroke-width="1.25"/>
<circle cx="451.8" cy="194.1" r="2.85" fill="#b8d8d8" stroke="#000" stroke-width="1.25"/>
<circle cx="461.5" cy="213.6" r="2.85" fill="#b8d8d8" stroke="#000" stroke-width="1.25"/>
<circle cx="546.4" cy="109.0" r="2.85" fill="#b8d8d8" stroke="#000" stroke-width="1.25"/>
<circle cx="546.3" cy="122.7" r="2.85" fill="#b8d8d8" stroke="#000" stroke-width="1.25"/>
<circle cx="547.7" cy="127.7" r="2.85" fill="#b8d8d8" stroke="#000" stroke-width="1.25"/>
<circle cx="547.7" cy="157.9" r="2.85" fill="#b8d8d8" stroke="#000" stroke-width="1.25"/>
<circle cx="547.6" cy="163.4" r="2.85" fill="#b8d8d8" stroke="#000" stroke-width="1.25"/>
<circle cx="544.4" cy="173.8" r="2.85" fill="#b8d8d8" stroke="#000" stroke-width="1.25"/>
<circle cx="538.9" cy="177.8" r="2.85" fill="#b8d8d8" stroke="#000" stroke-width="1.25"/>
<circle cx="546.9" cy="177.0" r="2.85" fill="#b8d8d8" stroke="#000" stroke-width="1.25"/>
<circle cx="545.7" cy="179.1" r="2.85" fill="#b8d8d8" stroke="#000" stroke-width="1.25"/>
<circle cx="542.5" cy="178.5" r="2.85" fill="#b8d8d8" stroke="#000" stroke-width="1.25"/>
<circle cx="547.3" cy="201.4" r="2.85" fill="#b8d8d8" stroke="#000" stroke-width="1.25"/>
<circle cx="543.3" cy="214.1" r="2.85" fill="#b8d8d8" stroke="#000" stroke-width="1.25"/>
<circle cx="546.2" cy="219.0" r="2.85" fill="#b8d8d8" stroke="#000" stroke-width="1.25"/>
<circle cx="541.4" cy="225.5" r="2.85" fill="#b8d8d8" stroke="#000" stroke-width="1.25"/>
<circle cx="550.3" cy="236.0" r="2.85" fill="#b8d8d8" stroke="#000" stroke-width="1.25"/>
<circle cx="550.2" cy="234.8" r="2.85" fill="#b8d8d8" stroke="#000" stroke-width="1.25"/>
<circle cx="549.5" cy="244.0" r="2.85" fill="#b8d8d8" stroke="#000" stroke-width="1.25"/>
<circle cx="545.0" cy="249.6" r="2.85" fill="#b8d8d8" stroke="#000" stroke-width="1.25"/>
<circle cx="537.9" cy="263.2" r="2.85" fill="#b8d8d8" stroke="#000" stroke-width="1.25"/>
<circle cx="537.9" cy="282.6" r="2.85" fill="#b8d8d8" stroke="#000" stroke-width="1.25"/>
<circle cx="629.8" cy="176.6" r="2.85" fill="#b8d8d8" stroke="#000" stroke-width="1.25"/>
<circle cx="634.4" cy="173.2" r="2.85" fill="#b8d8d8" stroke="#000" stroke-width="1.25"/>
<circle cx="632.8" cy="186.1" r="2.85" fill="#b8d8d8" stroke="#000" stroke-width="1.25"/>
<circle cx="626.1" cy="192.3" r="2.85" fill="#b8d8d8" stroke="#000" stroke-width="1.25"/>
<circle cx="625.8" cy="189.1" r="2.85" fill="#b8d8d8" stroke="#000" stroke-width="1.25"/>
<circle cx="626.3" cy="174.0" r="2.85" fill="#b8d8d8" stroke="#000" stroke-width="1.25"/>
<circle cx="631.2" cy="206.4" r="2.85" fill="#b8d8d8" stroke="#000" stroke-width="1.25"/>
<circle cx="627.0" cy="179.8" r="2.85" fill="#b8d8d8" stroke="#000" stroke-width="1.25"/>
<circle cx="634.1" cy="211.7" r="2.85" fill="#b8d8d8" stroke="#000" stroke-width="1.25"/>
<circle cx="633.4" cy="187.5" r="2.85" fill="#b8d8d8" stroke="#000" stroke-width="1.25"/>
<circle cx="639.0" cy="172.0" r="2.85" fill="#b8d8d8" stroke="#000" stroke-width="1.25"/>
<circle cx="637.3" cy="182.7" r="2.85" fill="#b8d8d8" stroke="#000" stroke-width="1.25"/>
<circle cx="627.3" cy="175.2" r="2.85" fill="#b8d8d8" stroke="#000" stroke-width="1.25"/>
<circle cx="629.6" cy="205.9" r="2.85" fill="#b8d8d8" stroke="#000" stroke-width="1.25"/>
<circle cx="627.8" cy="195.6" r="2.85" fill="#b8d8d8" stroke="#000" stroke-width="1.25"/>
<circle cx="634.2" cy="186.4" r="2.85" fill="#b8d8d8" stroke="#000" stroke-width="1.25"/>
<circle cx="633.0" cy="172.8" r="2.85" fill="#b8d8d8" stroke="#000" stroke-width="1.25"/>
<circle cx="626.1" cy="179.1" r="2.85" fill="#b8d8d8" stroke="#000" stroke-width="1.25"/>
<circle cx="634.8" cy="188.8" r="2.85" fill="#b8d8d8" stroke="#000" stroke-width="1.25"/>
<circle cx="629.7" cy="195.8" r="2.85" fill="#b8d8d8" stroke="#000" stroke-width="1.25"/>
<circle cx="631.6" cy="183.2" r="2.85" fill="#b8d8d8" stroke="#000" stroke-width="1.25"/>
<circle cx="636.4" cy="200.8" r="2.85" fill="#b8d8d8" stroke="#000" stroke-width="1.25"/>
<circle cx="628.7" cy="195.3" r="2.85" fill="#b8d8d8" stroke="#000" stroke-width="1.25"/>
<circle cx="632.7" cy="208.5" r="2.85" fill="#b8d8d8" stroke="#000" stroke-width="1.25"/>
<circle cx="635.5" cy="182.7" r="2.85" fill="#b8d8d8" stroke="#000" stroke-width="1.25"/>
<circle cx="639.0" cy="175.2" r="2.85" fill="#b8d8d8" stroke="#000" stroke-width="1.25"/>
<circle cx="631.3" cy="250.8" r="2.85" fill="#b8d8d8" stroke="#000" stroke-width="1.25"/>
<circle cx="628.1" cy="238.5" r="2.85" fill="#b8d8d8" stroke="#000" stroke-width="1.25"/>
<circle cx="626.8" cy="246.7" r="2.85" fill="#b8d8d8" stroke="#000" stroke-width="1.25"/>
<circle cx="635.5" cy="242.4" r="2.85" fill="#b8d8d8" stroke="#000" stroke-width="1.25"/>
<circle cx="636.8" cy="230.4" r="2.85" fill="#b8d8d8" stroke="#000" stroke-width="1.25"/>
<circle cx="634.6" cy="243.3" r="2.85" fill="#b8d8d8" stroke="#000" stroke-width="1.25"/>
<circle cx="633.3" cy="237.0" r="2.85" fill="#b8d8d8" stroke="#000" stroke-width="1.25"/>
<circle cx="636.4" cy="259.5" r="2.85" fill="#b8d8d8" stroke="#000" stroke-width="1.25"/>
<circle cx="632.0" cy="246.6" r="2.85" fill="#b8d8d8" stroke="#000" stroke-width="1.25"/>
<circle cx="627.0" cy="248.3" r="2.85" fill="#b8d8d8" stroke="#000" stroke-width="1.25"/>
<circle cx="629.5" cy="151.7" r="2.85" fill="#b8d8d8" stroke="#000" stroke-width="1.25"/>
<circle cx="639.2" cy="153.8" r="2.85" fill="#b8d8d8" stroke="#000" stroke-width="1.25"/>
<circle cx="625.3" cy="160.4" r="2.85" fill="#b8d8d8" stroke="#000" stroke-width="1.25"/>
<circle cx="637.4" cy="160.4" r="2.85" fill="#b8d8d8" stroke="#000" stroke-width="1.25"/>
<circle cx="633.5" cy="168.2" r="2.85" fill="#b8d8d8" stroke="#000" stroke-width="1.25"/>
<circle cx="638.3" cy="170.0" r="2.85" fill="#b8d8d8" stroke="#000" stroke-width="1.25"/>
<circle cx="635.9" cy="168.6" r="2.85" fill="#b8d8d8" stroke="#000" stroke-width="1.25"/>
<circle cx="628.0" cy="173.7" r="2.85" fill="#b8d8d8" stroke="#000" stroke-width="1.25"/>
<circle cx="632.9" cy="175.1" r="2.85" fill="#b8d8d8" stroke="#000" stroke-width="1.25"/>
<circle cx="624.4" cy="179.0" r="2.85" fill="#b8d8d8" stroke="#000" stroke-width="1.25"/>
<circle cx="631.7" cy="179.0" r="2.85" fill="#b8d8d8" stroke="#000" stroke-width="1.25"/>
<circle cx="637.0" cy="179.7" r="2.85" fill="#b8d8d8" stroke="#000" stroke-width="1.25"/>
<circle cx="627.7" cy="179.7" r="2.85" fill="#b8d8d8" stroke="#000" stroke-width="1.25"/>
<circle cx="626.0" cy="185.4" r="2.85" fill="#b8d8d8" stroke="#000" stroke-width="1.25"/>
<circle cx="631.7" cy="184.7" r="2.85" fill="#b8d8d8" stroke="#000" stroke-width="1.25"/>
<circle cx="636.5" cy="184.2" r="2.85" fill="#b8d8d8" stroke="#000" stroke-width="1.25"/>
<circle cx="630.5" cy="189.0" r="2.85" fill="#b8d8d8" stroke="#000" stroke-width="1.25"/>
<circle cx="635.6" cy="188.3" r="2.85" fill="#b8d8d8" stroke="#000" stroke-width="1.25"/>
<circle cx="631.0" cy="190.6" r="2.85" fill="#b8d8d8" stroke="#000" stroke-width="1.25"/>
<circle cx="626.9" cy="193.6" r="2.85" fill="#b8d8d8" stroke="#000" stroke-width="1.25"/>
<circle cx="638.3" cy="192.4" r="2.85" fill="#b8d8d8" stroke="#000" stroke-width="1.25"/>
<circle cx="631.7" cy="195.4" r="2.85" fill="#b8d8d8" stroke="#000" stroke-width="1.25"/>
<circle cx="638.9" cy="196.6" r="2.85" fill="#b8d8d8" stroke="#000" stroke-width="1.25"/>
<circle cx="626.5" cy="198.7" r="2.85" fill="#b8d8d8" stroke="#000" stroke-width="1.25"/>
<circle cx="633.2" cy="198.7" r="2.85" fill="#b8d8d8" stroke="#000" stroke-width="1.25"/>
<circle cx="639.2" cy="201.2" r="2.85" fill="#b8d8d8" stroke="#000" stroke-width="1.25"/>
<circle cx="625.0" cy="201.4" r="2.85" fill="#b8d8d8" stroke="#000" stroke-width="1.25"/>
<circle cx="632.5" cy="205.3" r="2.85" fill="#b8d8d8" stroke="#000" stroke-width="1.25"/>
<circle cx="638.3" cy="205.0" r="2.85" fill="#b8d8d8" stroke="#000" stroke-width="1.25"/>
<circle cx="626.9" cy="208.6" r="2.85" fill="#b8d8d8" stroke="#000" stroke-width="1.25"/>
<circle cx="638.5" cy="212.0" r="2.85" fill="#b8d8d8" stroke="#000" stroke-width="1.25"/>
<circle cx="626.0" cy="213.8" r="2.85" fill="#b8d8d8" stroke="#000" stroke-width="1.25"/>
<circle cx="636.7" cy="215.6" r="2.85" fill="#b8d8d8" stroke="#000" stroke-width="1.25"/>
<circle cx="628.7" cy="217.0" r="2.85" fill="#b8d8d8" stroke="#000" stroke-width="1.25"/>
<circle cx="634.0" cy="220.0" r="2.85" fill="#b8d8d8" stroke="#000" stroke-width="1.25"/>
<circle cx="637.7" cy="220.0" r="2.85" fill="#b8d8d8" stroke="#000" stroke-width="1.25"/>
<circle cx="631.0" cy="223.7" r="2.85" fill="#b8d8d8" stroke="#000" stroke-width="1.25"/>
<circle cx="638.0" cy="224.3" r="2.85" fill="#b8d8d8" stroke="#000" stroke-width="1.25"/>
<circle cx="634.4" cy="225.7" r="2.85" fill="#b8d8d8" stroke="#000" stroke-width="1.25"/>
<circle cx="626.0" cy="231.2" r="2.85" fill="#b8d8d8" stroke="#000" stroke-width="1.25"/>
<circle cx="634.0" cy="232.7" r="2.85" fill="#b8d8d8" stroke="#000" stroke-width="1.25"/>
<circle cx="626.0" cy="237.5" r="2.85" fill="#b8d8d8" stroke="#000" stroke-width="1.25"/>
<circle cx="631.7" cy="236.3" r="2.85" fill="#b8d8d8" stroke="#000" stroke-width="1.25"/>
<circle cx="635.9" cy="237.5" r="2.85" fill="#b8d8d8" stroke="#000" stroke-width="1.25"/>
<circle cx="626.0" cy="243.6" r="2.85" fill="#b8d8d8" stroke="#000" stroke-width="1.25"/>
<circle cx="630.8" cy="243.0" r="2.85" fill="#b8d8d8" stroke="#000" stroke-width="1.25"/>
<circle cx="635.0" cy="242.2" r="2.85" fill="#b8d8d8" stroke="#000" stroke-width="1.25"/>
<circle cx="637.0" cy="246.0" r="2.85" fill="#b8d8d8" stroke="#000" stroke-width="1.25"/>
<circle cx="628.0" cy="249.0" r="2.85" fill="#b8d8d8" stroke="#000" stroke-width="1.25"/>
<circle cx="631.7" cy="249.4" r="2.85" fill="#b8d8d8" stroke="#000" stroke-width="1.25"/>
<circle cx="638.9" cy="251.4" r="2.85" fill="#b8d8d8" stroke="#000" stroke-width="1.25"/>
<circle cx="633.5" cy="253.8" r="2.85" fill="#b8d8d8" stroke="#000" stroke-width="1.25"/>
<circle cx="638.0" cy="256.5" r="2.85" fill="#b8d8d8" stroke="#000" stroke-width="1.25"/>
<circle cx="626.9" cy="258.0" r="2.85" fill="#b8d8d8" stroke="#000" stroke-width="1.25"/>
<circle cx="636.5" cy="259.2" r="2.85" fill="#b8d8d8" stroke="#000" stroke-width="1.25"/>
<circle cx="632.5" cy="260.7" r="2.85" fill="#b8d8d8" stroke="#000" stroke-width="1.25"/>
<circle cx="633.5" cy="263.4" r="2.85" fill="#b8d8d8" stroke="#000" stroke-width="1.25"/>
<circle cx="627.7" cy="266.7" r="2.85" fill="#b8d8d8" stroke="#000" stroke-width="1.25"/>
<circle cx="629.9" cy="266.7" r="2.85" fill="#b8d8d8" stroke="#000" stroke-width="1.25"/>
<circle cx="632.0" cy="272.5" r="2.85" fill="#b8d8d8" stroke="#000" stroke-width="1.25"/>
<circle cx="628.7" cy="279.0" r="2.85" fill="#b8d8d8" stroke="#000" stroke-width="1.25"/>
<circle cx="635.9" cy="280.9" r="2.85" fill="#b8d8d8" stroke="#000" stroke-width="1.25"/>
<circle cx="631.7" cy="279.9" r="2.85" fill="#b8d8d8" stroke="#000" stroke-width="1.25"/>
<circle cx="634.0" cy="283.0" r="2.85" fill="#b8d8d8" stroke="#000" stroke-width="1.25"/>
<circle cx="630.5" cy="294.4" r="2.85" fill="#b8d8d8" stroke="#000" stroke-width="1.25"/>
<circle cx="632.3" cy="315.7" r="2.85" fill="#b8d8d8" stroke="#000" stroke-width="1.25"/>
<path d="M403.55 54V327.95H686" stroke="#000" stroke-width="2" stroke-linejoin="round" fill="none"/>
<path d="M399.7 306.7H403.5M399.7 246.5H403.5M399.7 186.2H403.5M399.7 126.0H403.5M399.7 65.7H403.5M456.4 327.9V331.9M544.3 327.9V331.9M632.3 327.9V331.9" stroke="#000" stroke-width="2.3" fill="none"/>
<g font-size="12.3" text-anchor="end">
<text transform="translate(396.5,311.1) rotate(0.05)">0.0</text>
<text transform="translate(396.5,250.9) rotate(0.05)">0.2</text>
<text transform="translate(396.5,190.6) rotate(0.05)">0.4</text>
<text transform="translate(396.5,130.4) rotate(0.05)">0.6</text>
<text transform="translate(396.5,70.1) rotate(0.05)">0.8</text>
</g>
<text font-size="12.15" text-anchor="middle" transform="translate(365.5,183.7) rotate(-90)">Correlation coefficient between sampling</text>
<g font-size="12.3" text-anchor="end">
<text transform="translate(464.5,340.5) rotate(-45)" text-anchor="start"><tspan x="-95.0" y="0">Igs and cytokines</tspan><tspan x="-94.8" y="15.3">in serum</tspan></text>
<text transform="translate(540.8,339.4) rotate(-45)">Immune cells</text>
<text transform="translate(640.2,338.8) rotate(-45)">Stimulated cytokines</text>
</g>
<path d="M456.2 58.7H632.3" stroke="#000" stroke-width="1.5" fill="none"/>
<text transform="translate(545.4,40) rotate(0.05)" font-size="14.7" text-anchor="middle"><tspan font-style="italic">p</tspan>=0.003</text>
</g>
</svg>
</body></html>
